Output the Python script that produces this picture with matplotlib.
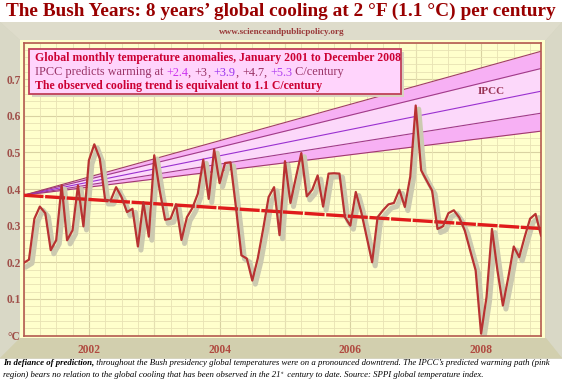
import matplotlib
matplotlib.use('Agg')
import matplotlib.pyplot as plt
import numpy as np
from matplotlib.patches import Rectangle, Polygon
from matplotlib.text import Annotation
from matplotlib import transforms
from matplotlib.ticker import MultipleLocator

# ---------------- data ----------------
anomalies = [0.198, 0.207, 0.319, 0.352, 0.334, 0.233, 0.260, 0.410, 0.260, 0.287, 0.410, 0.298,
             0.478, 0.522, 0.483, 0.369, 0.369, 0.405, 0.378, 0.337, 0.346, 0.243, 0.364, 0.270,
             0.492, 0.396, 0.316, 0.319, 0.358, 0.261, 0.323, 0.348, 0.387, 0.480, 0.373, 0.508,
             0.416, 0.471, 0.473, 0.350, 0.219, 0.210, 0.150, 0.210, 0.291, 0.378, 0.405, 0.274,
             0.476, 0.362, 0.431, 0.498, 0.380, 0.398, 0.437, 0.352, 0.442, 0.443, 0.442, 0.323,
             0.300, 0.392, 0.337, 0.269, 0.200, 0.323, 0.342, 0.358, 0.362, 0.398, 0.351, 0.434,
             0.628, 0.451, 0.423, 0.396, 0.291, 0.298, 0.334, 0.342, 0.322, 0.287, 0.232, 0.178,
             0.005, 0.105, 0.291, 0.178, 0.082, 0.159, 0.243, 0.214, 0.269, 0.319, 0.332, 0.273]
start_year = 2001
trend_values = [0.383, 0.292]           # observed trend, start / end
ipcc_start = 0.383
ipcc_rates = ['+2.4', '+3', '+3.9', '+4.7', '+5.3']
ipcc_end = [0.558, 0.607, 0.667, 0.729, 0.776]
x_ticks = [2002, 2004, 2006, 2008]
y_ticks = [0.0, 0.1, 0.2, 0.3, 0.4, 0.5, 0.6, 0.7]
y_labels = ['°C', '0.1', '0.2', '0.3', '0.4', '0.5', '0.6', '0.7']

W, H = 562, 383
fig = plt.figure(figsize=(W / 100, H / 100), dpi=100)
fig.patch.set_facecolor('white')

def fx(px):
    return px / W

def fy(py):
    return 1 - py / H

def poly(pts, color, z=-5):
    p = Polygon([(fx(a), fy(b)) for a, b in pts], closed=True, facecolor=color,
                edgecolor='none', transform=fig.transFigure, zorder=z)
    fig.patches.append(p)

SERIF = ['Liberation Serif', 'DejaVu Serif']

# frame (3D-ish panel)
poly([(0, 22), (562, 22), (562, 359), (0, 359)], '#d6d4bf')
poly([(0, 22), (562, 22), (546, 40), (20, 40)], '#dedccb')
poly([(0, 22), (20, 40), (20, 338), (0, 358)], '#d9d8c6')
poly([(562, 22), (546, 40), (546, 338), (562, 358)], '#d9d8c6')
poly([(20, 338), (546, 338), (562, 358), (0, 358)], '#d2cfae')
poly([(20, 40), (545, 40), (545, 338), (20, 338)], '#ffffcc', -4)

# title
fig.text(fx(281), fy(11), 'The Bush Years: 8 years\u2019 global cooling at 2 \u00b0F (1.1 \u00b0C) per century',
         ha='center', va='center', fontsize=13.9, fontweight='bold', family=SERIF, color='#990000')
fig.text(fx(282), fy(32), 'www.scienceandpublicpolicy.org', ha='center', va='center',
         fontsize=6.6, fontweight='bold', family=SERIF, color='#9a3a3a')

# axes
L, R, T, B = 23.5, 541, 42.5, 335.5
ax = fig.add_axes([fx(L), fy(B), (R - L) / W, (B - T) / H])
ax.set_facecolor('#ffffcc')
n = len(anomalies)
x = start_year + np.arange(n) / 12.0
x_end = x[-1]
ax.set_xlim(start_year, x_end)
ax.set_ylim(0, 0.8)

ax.set_xticks(x_ticks)
ax.set_xticklabels([str(t) for t in x_ticks])
ax.set_xticks(np.arange(2001, 2009, 0.25), minor=True)
ax.set_yticks(y_ticks)
ax.set_yticklabels(y_labels)
ax.yaxis.set_minor_locator(MultipleLocator(0.02))
ax.grid(which='minor', color='#e8e2b4', lw=0.6, zorder=0)
for yr in range(2001, 2009):
    ax.axvline(yr, color='#d9d2a2', lw=0.8, zorder=0.2)
for yv in np.arange(0.1, 0.8, 0.1):
    ax.axhline(yv, color='#d9d2a2', lw=0.8, zorder=0.2)
ax.set_axisbelow(True)
ax.tick_params(which='both', length=0)
ax.tick_params(axis='x', pad=6)
ax.tick_params(axis='y', pad=2)
for lab in ax.get_xticklabels():
    lab.set_fontfamily(SERIF); lab.set_fontweight('bold'); lab.set_fontsize(8.3); lab.set_color('#b04a40')
for lab in ax.get_yticklabels():
    lab.set_fontfamily(SERIF); lab.set_fontweight('bold'); lab.set_fontsize(8.3); lab.set_color('#a0504a')
for s in ax.spines.values():
    s.set_color('#b45a50'); s.set_linewidth(1.2)

# IPCC fan
xf = [start_year, x_end]
fan = [[ipcc_start, e] for e in ipcc_end]
ax.fill_between(xf, fan[0], fan[1], color='#f7b0f4', lw=0, zorder=1)
ax.fill_between(xf, fan[1], fan[3], color='#fcd8fa', lw=0, zorder=1)
ax.fill_between(xf, fan[3], fan[4], color='#f7b0f4', lw=0, zorder=1)
line_cols = ['#a03a6a', '#a03a8a', '#9a30d0', '#a03a8a', '#a03a6a']
for f, c in zip(fan, line_cols):
    ax.plot(xf, f, color=c, lw=0.8, zorder=1.5)
ax.text(2008.16, 0.667, 'IPCC', ha='center', va='center', fontsize=8, fontweight='bold',
        family=SERIF, color='#993355', zorder=1.6,
        bbox=dict(boxstyle='square,pad=0.15', fc='#fcd8fa', ec='none'))

# data shadow
shadow_tr = transforms.offset_copy(ax.transData, fig=fig, x=2.2, y=-2.6, units='points')
ax.plot(x, anomalies, color='#cccab0', lw=3.6, transform=shadow_tr, zorder=2,
        solid_joinstyle='round')
# trend
ax.plot(xf, trend_values, color='#e01b1b', lw=2.4, dashes=(6, 0.5), zorder=3)
# data
ax.plot(x, anomalies, color='#b83232', lw=1.6, zorder=4, solid_joinstyle='round')

# annotation box
bx0, by0, bx1, by1 = 29, 49, 401, 94
fig.patches.append(Rectangle((fx(bx0 + 3), fy(by1 + 3)), (bx1 - bx0) / W, (by1 - by0) / H,
                             transform=fig.transFigure, facecolor='#d9d2c0', edgecolor='none', zorder=5))
fig.patches.append(Rectangle((fx(bx0), fy(by1)), (bx1 - bx0) / W, (by1 - by0) / H,
                             transform=fig.transFigure, facecolor='#ffd4fc', edgecolor='#c0405a',
                             lw=1.3, zorder=6))
tx = fx(35)
fs = 8.45
fig.text(tx, fy(58), 'Global monthly temperature anomalies, January 2001 to December 2008',
         ha='left', va='center', fontsize=fs, fontweight='bold', family=SERIF, color='#cc0033', zorder=7)
segs = [('IPCC predicts warming at ', '#993366'), (ipcc_rates[0], '#cc33ee'), (', ', '#993366'),
        (ipcc_rates[1], '#993366'), (', ', '#993366'), (ipcc_rates[2], '#9933ee'), (', ', '#993366'),
        (ipcc_rates[3], '#993366'), (', ', '#993366'), (ipcc_rates[4], '#b040f0'),
        (' C/century', '#993366')]
prev = fig.text(tx, fy(72.5), segs[0][0], ha='left', va='center', fontsize=fs + 0.4, family=SERIF,
                color=segs[0][1], zorder=7)
for s, c in segs[1:]:
    a = Annotation(s, xy=(1, 0), xycoords=prev, ha='left', va='bottom',
                   fontsize=fs + 0.4, family=SERIF, color=c, zorder=7)
    fig.add_artist(a)
    prev = a
fig.text(tx, fy(86), 'The observed cooling trend is equivalent to 1.1 C/century',
         ha='left', va='center', fontsize=fs, fontweight='bold', family=SERIF, color='#cc0033', zorder=7)

# caption
cfs = 6.33
c1 = fig.text(fx(3), fy(363), 'In defiance of prediction,', ha='left', va='center', fontsize=cfs,
              style='italic', fontweight='bold', family=SERIF, color='black')
fig.add_artist(Annotation(
    ' throughout the Bush presidency global temperatures were on a pronounced downtrend. '
    'The IPCC\u2019s predicted warming path (pink', xy=(1, 0), xycoords=c1, ha='left', va='bottom',
    fontsize=cfs, style='italic', family=SERIF, color='black'))
c2 = fig.text(fx(3), fy(375), 'region) bears no relation to the global cooling that has been observed in the 21',
              ha='left', va='center', fontsize=cfs, style='italic', family=SERIF, color='black')
c3 = Annotation('st', xy=(1, 0.45), xycoords=c2, ha='left', va='bottom',
                fontsize=cfs * 0.6, style='italic', family=SERIF, color='black')
fig.add_artist(c3)
fig.add_artist(Annotation(
    ' century to date. Source: SPPI global temperature index.', xy=(1, 0), xycoords=c2,
    xytext=(3.5, 0), textcoords='offset points', ha='left', va='bottom',
    fontsize=cfs, style='italic', family=SERIF, color='black'))

fig.savefig('out.png', dpi=100, facecolor='white')
